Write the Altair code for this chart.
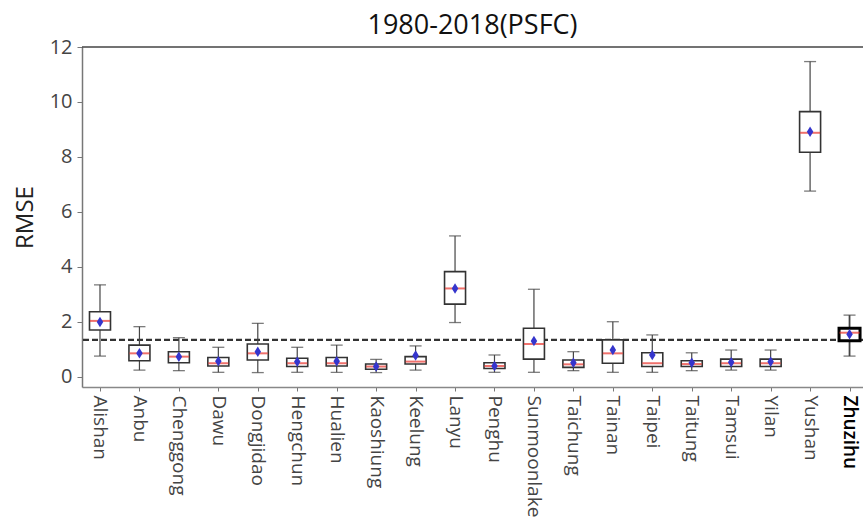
import altair as alt
import pandas as pd

# Station RMSE distributions of surface pressure, 1980-2018
stations = [
    "Alishan", "Anbu", "Chenggong", "Dawu", "Dongjidao", "Hengchun", "Hualien",
    "Kaoshiung", "Keelung", "Lanyu", "Penghu", "Sunmoonlake", "Taichung",
    "Tainan", "Taipei", "Taitung", "Tamsui", "Yilan", "Yushan", "Zhuzihu",
]
whisker_low = [0.76, 0.25, 0.23, 0.17, 0.16, 0.17, 0.17, 0.16, 0.25, 1.98,
               0.17, 0.17, 0.23, 0.17, 0.17, 0.23, 0.25, 0.25, 6.76, 0.76]
q1 = [1.71, 0.59, 0.52, 0.40, 0.62, 0.38, 0.40, 0.28, 0.47, 2.65,
      0.31, 0.65, 0.35, 0.50, 0.38, 0.38, 0.38, 0.38, 8.17, 1.32]
median = [2.04, 0.86, 0.74, 0.50, 0.86, 0.50, 0.50, 0.38, 0.56, 3.22,
          0.40, 1.20, 0.46, 0.86, 0.50, 0.47, 0.50, 0.50, 8.88, 1.61]
q3 = [2.37, 1.16, 0.92, 0.71, 1.20, 0.68, 0.71, 0.47, 0.74, 3.83,
      0.52, 1.77, 0.62, 1.35, 0.88, 0.59, 0.65, 0.65, 9.65, 1.77]
whisker_high = [3.35, 1.83, 1.43, 1.08, 1.95, 1.08, 1.16, 0.64, 1.13, 5.13,
                0.80, 3.19, 0.92, 2.01, 1.53, 0.88, 0.98, 0.98, 11.47, 2.25]
mean = [2.00, 0.86, 0.74, 0.57, 0.92, 0.55, 0.57, 0.38, 0.78, 3.22,
        0.40, 1.31, 0.52, 0.98, 0.80, 0.52, 0.54, 0.55, 8.92, 1.55]

highlight = "Zhuzihu"
reference_rmse = 1.35
y_min, y_max = -0.364, 12.0
y_ticks = [0, 2, 4, 6, 8, 10, 12]

df = pd.DataFrame({
    "station": stations, "lo": whisker_low, "q1": q1, "med": median,
    "q3": q3, "hi": whisker_high, "mean": mean,
})

FONT = "Open Sans"
is_hl = alt.datum.station == highlight
hl_test = f"datum.value === '{highlight}'"

x_axis = alt.Axis(
    labelAngle=90, labelFontSize=19, labelFont=FONT, labelPadding=4,
    labelColor={"condition": {"test": hl_test, "value": "#000000"}, "value": "#444444"},
    labelFontWeight={"condition": {"test": hl_test, "value": 600}, "value": "normal"},
    tickSize=4, tickColor="#777777", domainColor="#888888", domainWidth=1.5,
    grid=False, title=None,
)
y_axis = alt.Axis(
    values=y_ticks, labelFontSize=20, labelFont=FONT, labelColor="#444444",
    labelPadding=5, tickSize=5, tickColor="#777777", domainColor="#777777",
    domainWidth=1.5, grid=False, title="RMSE", titleFont=FONT, titleFontSize=24,
    titleFontWeight="normal", titleColor="#222222", titlePadding=12,
)

x_enc = alt.X(
    "station:N", sort=stations, axis=x_axis,
    scale=alt.Scale(type="point", padding=0.3986, align=0.572),
)
y_scale = alt.Scale(domain=[y_min, y_max], nice=False, zero=False)

base = alt.Chart(df).encode(x=x_enc)

whiskers = base.mark_rule(color="#444444").encode(
    y=alt.Y("lo:Q", scale=y_scale, axis=y_axis),
    y2="hi:Q",
    strokeWidth=alt.condition(is_hl, alt.value(1.8), alt.value(1.2)),
)
cap_low = base.mark_tick(color="#444444", size=12, thickness=1.3).encode(
    y=alt.Y("lo:Q", scale=y_scale, axis=y_axis)
)
cap_high = base.mark_tick(color="#444444", size=12, thickness=1.3).encode(
    y=alt.Y("hi:Q", scale=y_scale, axis=y_axis)
)
boxes = base.mark_bar(size=21, fill="white").encode(
    y=alt.Y("q1:Q", scale=y_scale, axis=y_axis),
    y2="q3:Q",
    stroke=alt.condition(is_hl, alt.value("#000000"), alt.value("#333333")),
    strokeWidth=alt.condition(is_hl, alt.value(3.0), alt.value(1.6)),
)
medians = base.mark_tick(color="#e8352e", size=20, thickness=2).encode(
    y=alt.Y("med:Q", scale=y_scale, axis=y_axis)
)
means = base.mark_point(
    shape="M0,-1L0.62,0L0,1L-0.62,0Z", filled=True, opacity=1,
    color="#3535cc", size=110,
).encode(y=alt.Y("mean:Q", scale=y_scale, axis=y_axis))

threshold = alt.Chart(pd.DataFrame({"v": [reference_rmse]})).mark_rule(
    color="#333333", strokeWidth=2.2, strokeDash=[6, 3]
).encode(y=alt.Y("v:Q", scale=y_scale, axis=y_axis))

top_frame = alt.Chart(pd.DataFrame({"v": [y_max]})).mark_rule(
    color="#444444", strokeWidth=1.5
).encode(y=alt.Y("v:Q", scale=y_scale, axis=y_axis))

chart = (
    alt.layer(top_frame, threshold, whiskers, cap_low, cap_high, boxes, medians, means)
    .properties(
        width=781, height=340,
        title=alt.TitleParams("1980-2018(PSFC)", font=FONT, fontSize=27,
                              fontWeight="normal", color="#111111", offset=-3),
        autosize=alt.AutoSizeParams(type="none"),
        padding={"left": 82, "top": 47, "right": 0, "bottom": 137},
        background="white",
    )
    .configure_view(stroke=None)
)

chart.save("out.html", embed_options={"renderer": "svg", "actions": False})
